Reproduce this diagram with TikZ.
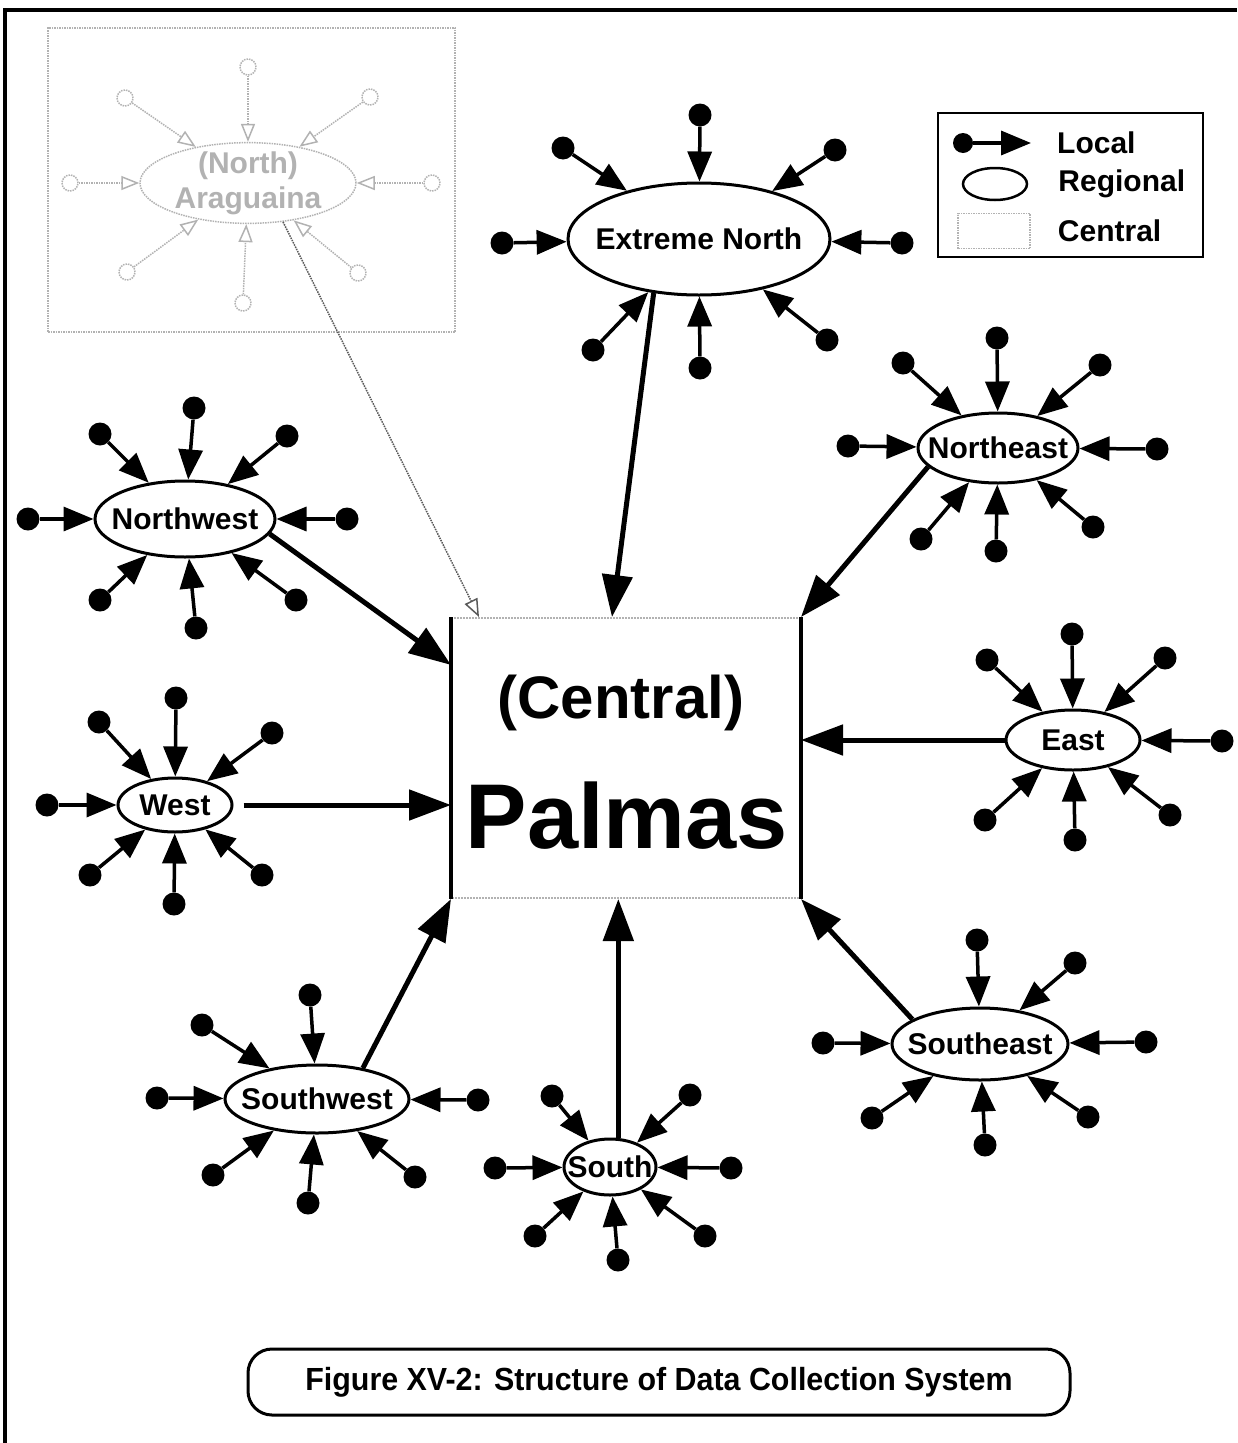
\documentclass[tikz,border=0pt]{standalone}
\usepackage{fontspec}
\setmainfont{Liberation Sans}
\newfontfamily\capfont[FakeStretch=0.95]{Liberation Sans}
\usepackage{tikz}
\usetikzlibrary{arrows.meta, calc, positioning, shapes.geometric}

\newcommand{\regfont}{\bfseries\fontsize{30}{32}\selectfont}
\newcommand{\rname}[1]{\makebox[0pt]{#1}}
% local stations round a regional office: #1 extra style, #2 office, #3 offsets
\newcommand{\spokes}[3][]{%
  \foreach \dx/\dy [count=\k] in {#3} {
    \node[loc, #1] (#2-\k) at ($(#2)+(\dx,\dy)$) {};
    \draw[spk, #1] (#2-\k) -- (#2);
  }}

\begin{document}
\begin{tikzpicture}[x=1pt, y=-1pt, >=stealth,
  loc/.style={circle, fill, inner sep=0pt, minimum size=23pt},
  spk/.style={->, >={Triangle[length=30pt, width=24pt]}, line width=3.5pt},
  feed/.style={->, >={Triangle[length=42pt, width=30pt]}, line width=5pt},
  region/.style={ellipse, draw, line width=3pt, fill=white, inner sep=0pt, font=\regfont},
  faded/.style={draw=gray!60, fill=white, text=gray!60, line width=1.5pt, densely dotted,
                minimum size=16pt, >={Triangle[open, length=18pt, width=14pt]}},
  cenbox/.style={draw=gray!60, densely dotted, line width=1.5pt},
  cside/.style={draw=black, line width=3.5pt},
  lbl/.style={inner sep=0pt, font=\regfont},
  capbox/.style={draw, line width=3pt, rounded corners=24pt, minimum width=822pt,
                 minimum height=66pt, font=\capfont\bfseries\fontsize{32}{34}\selectfont}]
  \useasboundingbox (0,0) rectangle (1237,1443);
  % page frame
  \draw[line width=4pt] (5,1443) -- (5,10) -- (1237,10);
  % central offices
  \node[cenbox, minimum width=407pt, minimum height=304pt] (abox) at (251.5,180) {};
  \node[cenbox, line width=2pt, minimum width=348pt, minimum height=280pt] (pal) at (626,758) {};
  \draw[cside] (pal.north west) -- (pal.south west); \draw[cside] (pal.north east) -- (pal.south east);
  \node[anchor=base, font=\bfseries\fontsize{60}{62}\selectfont] (pcen) at (621,718) {(Central)};
  \node[anchor=base, font=\bfseries\fontsize{92}{94}\selectfont] (pname) at (627,848) {Palmas};
  % regional offices
  \node[region, faded, minimum width=216pt, minimum height=80pt, align=center, inner ysep=-3pt,
        font=\bfseries\fontsize{30}{35}\selectfont] (arag) at (248,183) {\rname{(North)}\\\rname{Araguaina}};
  \node[region, minimum width=262pt, minimum height=112pt] (extn) at (699,239) {\rname{Extreme North}};
  \node[region, minimum width=160pt, minimum height=70pt] (neast) at (998,448) {\rname{Northeast}};
  \node[region, minimum width=180pt, minimum height=76pt] (nwest) at (185,519) {\rname{Northwest}};
  \node[region, minimum width=114pt, minimum height=54pt] (west) at (175,805) {\rname{West}};
  \node[region, minimum width=134pt, minimum height=60pt] (east) at (1073,740) {\rname{East}};
  \node[region, minimum width=176pt, minimum height=72pt] (seast) at (980,1044) {\rname{Southeast}};
  \node[region, minimum width=184pt, minimum height=68pt] (swest) at (317,1099) {\rname{Southwest}};
  \node[region, minimum width=92pt, minimum height=56pt] (south) at (610,1167) {\rname{South}};
  % local stations
  \spokes[faded]{arag}{0/-116, -123/-85, 122/-86, -178/0, 184/0, -121/89, -5/120, 110/90}
  \spokes{extn}{1/-124, -136/-91, 136/-89, -197/4, 203/4, -106/111, 1/129, 128/101}
  \spokes{neast}{-1/-110, -95/-85, 102/-83, -150/-2, 159/1, -77/91, -2/103, 95/79}
  \spokes{nwest}{9/-111, -85/-85, 102/-83, -157/0, 162/0, -85/81, 11/109, 111/81}
  \spokes{west}{1/-107, -76/-83, 97/-72, -128/0, -85/70, -1/99, 87/70}
  \spokes{east}{-1/-106, -86/-80, 92/-82, 149/1, -88/80, 2/100, 97/75}
  \spokes{seast}{-3/-104, 95/-81, -157/-1, 166/-2, -108/74, 5/101, 108/73}
  \spokes{swest}{-7/-104, -115/-74, -160/-1, 161/1, -104/76, -9/104, 98/78}
  \spokes{south}{-58/-71, 80/-72, -115/1, 121/1, -75/69, 8/93, 95/69}
  % regional -> central
  \coordinate (p-a) at ($(pal.north west)!.08!(pal.north east)$);
  \coordinate (p-en) at ($(pal.north west)!.46!(pal.north east)$);
  \coordinate (p-nw) at ($(pal.north west)!.17!(pal.south west)$);
  \coordinate (p-w) at (west -| pal.west);
  \coordinate (p-e) at (east -| pal.east);
  \draw[feed, faded, draw=gray!70!black] (arag.-48) -- (p-a);
  \draw[feed] (extn.-130) -- (p-en); \draw[feed] (neast.-165) -- (pal.north east);
  \draw[feed] (nwest.-10) -- (p-nw); \draw[feed, shorten <=10pt] (west) -- (p-w);
  \draw[feed] (east) -- (p-e); \draw[feed] (seast.160) -- (pal.south east);
  \draw[feed] (swest.34) -- (pal.south west); \draw[feed] (south.74) -- (south.74 |- pal.south);
  % legend
  \node[draw, line width=2.5pt, minimum width=265pt, minimum height=144pt] (leg) at (1070.5,185) {};
  \node[loc, minimum size=20pt] (ldot) at (963,143) {};
  \coordinate (ltip) at (1031,143);
  \draw[spk] (ldot) -- (ltip);
  \node[region, line width=2.5pt, minimum width=64pt, minimum height=32pt] (lreg) at (995,184) {};
  \node[cenbox, minimum width=72pt, minimum height=35pt] (lcen) at (994,231) {};
  \node[lbl, right=26pt of ltip] (tloc) {Local};
  \node[lbl, right=30pt of lreg] (treg) {Regional};
  \node[lbl, right=27pt of lcen] (tcen) {Central};
  % caption
  \node[capbox] (cap) at (659,1382) {Figure XV-2: Structure of Data Collection System};
\end{tikzpicture}
\end{document}
